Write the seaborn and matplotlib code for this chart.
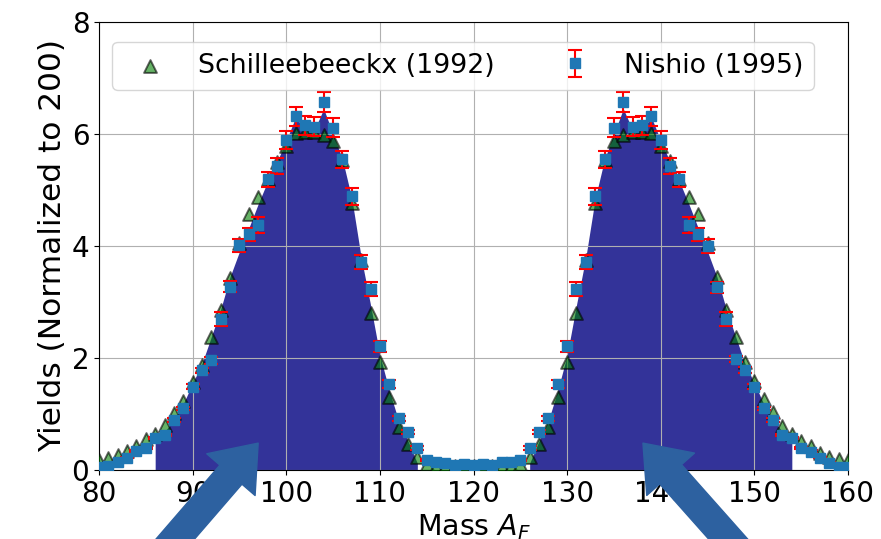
import numpy as np
import pandas as pd
import matplotlib
matplotlib.use("Agg")
import matplotlib.pyplot as plt
import seaborn as sns

# ---------------- data ----------------
mass = list(range(80, 161))

schill_yield = [
    0.18, 0.21, 0.27, 0.34, 0.43, 0.55, 0.65, 0.80, 1.02, 1.24,   # 80-89
    1.58, 1.88, 2.37, 2.86, 3.43, 4.05, 4.58, 4.87, 5.20, 5.50,   # 90-99
    5.78, 6.02, 6.04, 6.03, 5.99, 5.87, 5.54, 4.77, 3.75, 2.80,   # 100-109
    1.93, 1.31, 0.77, 0.46, 0.24, 0.10, 0.08, 0.07, 0.07, 0.07,   # 110-119
    0.07,                                                         # 120
    0.07, 0.07, 0.07, 0.08, 0.10, 0.24, 0.46, 0.77, 1.31, 1.93,   # 121-130
    2.80, 3.75, 4.77, 5.54, 5.87, 5.99, 6.03, 6.04, 6.02, 5.78,   # 131-140
    5.52, 5.20, 4.87, 4.58, 4.05, 3.44, 2.86, 2.38, 1.92, 1.59,   # 141-150
    1.26, 1.03, 0.79, 0.65, 0.52, 0.42, 0.31, 0.24, 0.19, 0.17,   # 151-160
]

nishio_yield = [
    0.05, 0.07, 0.14, 0.22, 0.34, 0.39, 0.57, 0.63, 0.89, 1.10,   # 80-89
    1.49, 1.78, 1.96, 2.70, 3.27, 4.01, 4.21, 4.37, 5.19, 5.43,   # 90-99
    5.89, 6.32, 6.16, 6.13, 6.57, 6.11, 5.55, 4.89, 3.72, 3.23,   # 100-109
    2.21, 1.54, 0.92, 0.68, 0.39, 0.18, 0.14, 0.12, 0.09, 0.10,   # 110-119
    0.09,                                                         # 120
    0.11, 0.09, 0.14, 0.15, 0.18, 0.39, 0.68, 0.92, 1.54, 2.21,   # 121-130
    3.23, 3.72, 4.89, 5.55, 6.11, 6.57, 6.13, 6.16, 6.32, 5.89,   # 131-140
    5.43, 5.19, 4.38, 4.21, 4.00, 3.26, 2.70, 1.98, 1.79, 1.49,   # 141-150
    1.10, 0.89, 0.63, 0.57, 0.39, 0.33, 0.22, 0.13, 0.06, 0.05,   # 151-160
]

nishio_err = [
    0.01, 0.01, 0.01, 0.01, 0.02, 0.02, 0.02, 0.02, 0.03, 0.03,   # 80-89
    0.04, 0.05, 0.06, 0.12, 0.10, 0.12, 0.12, 0.14, 0.14, 0.15,   # 90-99
    0.16, 0.17, 0.17, 0.17, 0.18, 0.17, 0.15, 0.15, 0.125, 0.12,  # 100-109
    0.10, 0.07, 0.05, 0.04, 0.03, 0.02, 0.02, 0.02, 0.02, 0.02,   # 110-119
    0.02,                                                         # 120
    0.02, 0.02, 0.02, 0.02, 0.02, 0.03, 0.04, 0.05, 0.07, 0.10,   # 121-130
    0.12, 0.125, 0.15, 0.15, 0.17, 0.18, 0.17, 0.17, 0.17, 0.16,  # 131-140
    0.15, 0.14, 0.14, 0.12, 0.12, 0.10, 0.12, 0.06, 0.05, 0.04,   # 141-150
    0.03, 0.03, 0.02, 0.02, 0.02, 0.02, 0.01, 0.01, 0.01, 0.01,   # 151-160
]

fill_mass_light = list(range(86, 115))
fill_yield_light = [0.55, 0.68, 0.90, 1.18, 1.55, 1.90, 2.38, 2.87, 3.45, 3.90,
                    4.32, 4.75, 5.15, 5.50, 5.88, 6.30, 6.08, 6.07, 6.45, 6.00,
                    5.55, 4.85, 3.80, 2.95, 2.05, 1.42, 0.88, 0.52, 0.12]
fill_mass_heavy = list(range(126, 155))
fill_yield_heavy = [0.12, 0.52, 0.88, 1.42, 2.05, 2.95, 3.80, 4.85, 5.55, 6.00,
                    6.45, 6.07, 6.08, 6.30, 5.88, 5.50, 5.15, 4.75, 4.32, 3.90,
                    3.45, 2.87, 2.38, 1.90, 1.55, 1.18, 0.90, 0.68, 0.55]

x_ticks = [80, 90, 100, 110, 120, 130, 140, 150, 160]
y_ticks = [0, 2, 4, 6, 8]

label_schill = "Schilleebeeckx (1992)"
label_nishio = "Nishio (1995)"

# ---------------- figure ----------------
fig = plt.figure(figsize=(8.81, 5.39), dpi=100)
ax = fig.add_axes([99 / 881, 69 / 539, 749 / 881, 448 / 539])

fill_color = "#333399"
ax.fill_between(fill_mass_light, fill_yield_light, 0, color=fill_color, lw=0, zorder=1)
ax.fill_between(fill_mass_heavy, fill_yield_heavy, 0, color=fill_color, lw=0, zorder=1)

df_s = pd.DataFrame({"A": mass, "Y": schill_yield})
sns.scatterplot(data=df_s, x="A", y="Y", marker="^", s=85, color="green",
                alpha=0.6, edgecolor="black", linewidth=1.4,
                label=label_schill, ax=ax, zorder=3)

ax.errorbar(mass, nishio_yield, yerr=nishio_err, fmt="s", color="#1f77b4",
            ms=7, ecolor="red", elinewidth=1.5, capsize=5, capthick=1.5,
            label=label_nishio, zorder=4)

ax.set_xlim(80, 160)
ax.set_ylim(0, 8)
ax.set_xticks(x_ticks)
ax.set_yticks(y_ticks)
ax.tick_params(labelsize=20)
ax.grid(True, color="#b0b0b0", lw=0.8)
ax.set_xlabel("Mass $A_F$", fontsize=20.5, labelpad=3.5)
ax.set_ylabel("Yields (Normalized to 200)", fontsize=22.5, labelpad=3)

ax.legend(loc="upper left", ncol=2, fontsize=19.3, bbox_to_anchor=(0, 0.985))

arrow_color = "#2d61a0"
for tip, tail in [((97.0, 0.48), (86.2, -1.61)), ((138.1, 0.48), (149.2, -1.61))]:
    ann = ax.annotate("", xy=tip, xytext=tail, xycoords="data", textcoords="data",
                      annotation_clip=False,
                      arrowprops=dict(facecolor=arrow_color, edgecolor=arrow_color,
                                      width=21, headwidth=46, headlength=30, shrink=0))
    ann.arrow_patch.set_clip_on(False)
    ann.set_zorder(6)

fig.savefig("out.png", dpi=100)
